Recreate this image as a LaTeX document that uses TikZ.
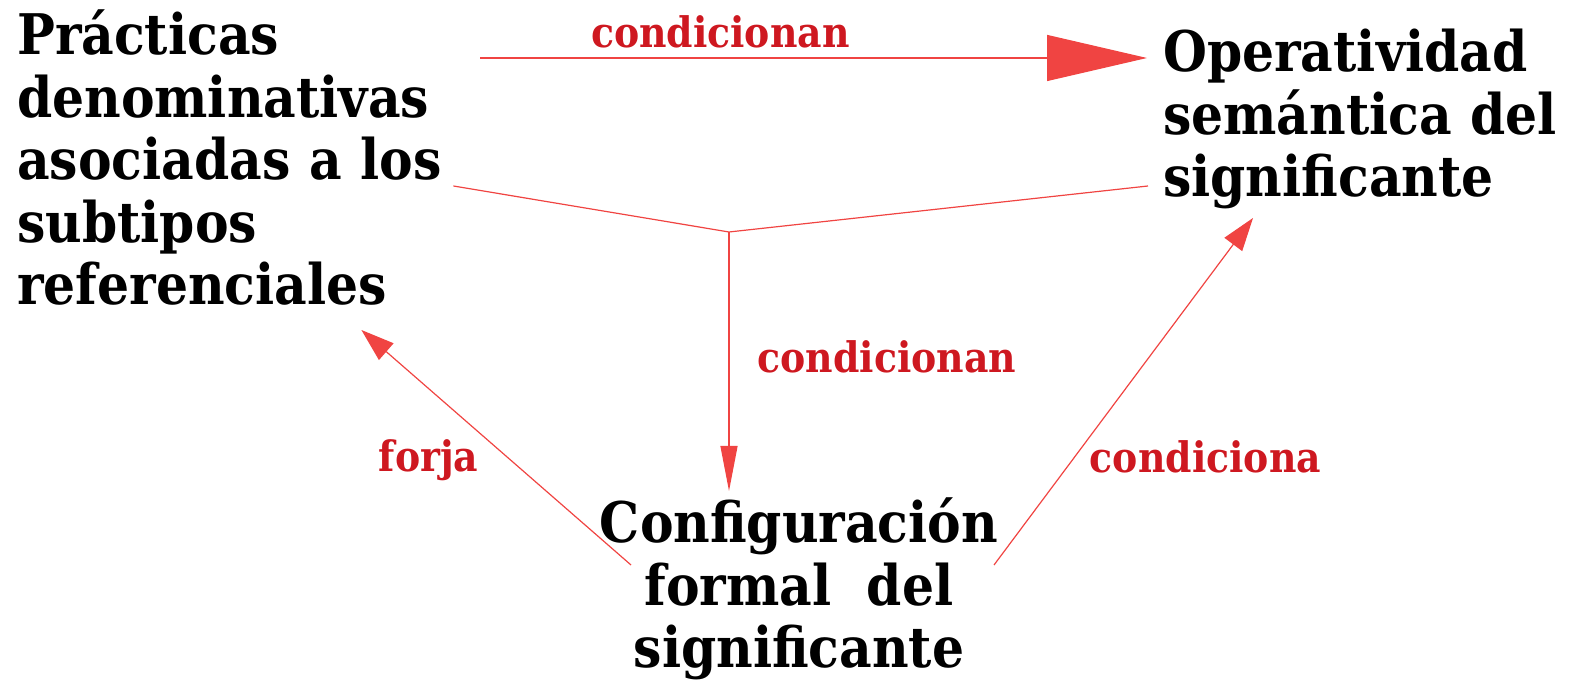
\documentclass[tikz,border=0pt]{standalone}
\usepackage{fontspec}
\newfontfamily\slab{DejaVu Serif Condensed}[BoldFont={DejaVu Serif Condensed Bold}]
\usetikzlibrary{arrows.meta,calc}
\definecolor{arrowred}{RGB}{240,68,66}
\definecolor{labelred}{RGB}{206,24,32}

\begin{document}
\begin{tikzpicture}[x=1pt,y=1pt]
    % Define styles
    \tikzset{
        concept/.style={
            inner sep=0pt,
            font=\slab\bfseries\fontsize{56}{62.5}\selectfont
        },
        link/.style={
            draw=arrowred,
            line width=1.2pt
        },
        tag/.style={
            inner sep=0pt,
            text=labelred,
            font=\slab\bfseries\fontsize{42}{48}\selectfont
        }
    }
    \useasboundingbox (0,0) rectangle (1571,687);

    % Concepts
    \node[concept, text width=437pt, align=left, anchor=base west] (prac) at (17,632) {
        Prácticas\\
        denominativas\\
        \makebox[437pt][s]{asociadas a los}\\
        subtipos\\
        referenciales
    };
    \node[concept, text width=397pt, align=left, anchor=base west] (oper) at (1163,615) {
        Operatividad\\
        \makebox[397pt][s]{semántica del}\\
        significante
    };
    \node[concept, text width=420pt, align=center, anchor=base] (conf) at (799,144) {
        Configuración\\
        formal\hspace{0.3em} del\\
        significante
    };

    % Junction of the two upper concepts
    \coordinate (J) at (729,455);

    % Connectors
    \draw[link, -{Triangle[length=100pt,width=46pt]}]
        ([shift={(26,-3)}]prac.base east) -- ([shift={(-16,14)}]oper.base west)
        node[tag, pos=0.36, anchor=base, yshift=10.5] {condicionan};
    \draw[link] ([shift={(-1,-131)}]prac.base east) -- (J) -- ([shift={(-15,-114)}]oper.base west);
    \draw[link, -{Triangle[length=45pt,width=17pt]}]
        (J) -- ($(conf.base -| J)+(0,52)$)
        node[tag, pos=0.544, anchor=base west, xshift=28] {condicionan};
    \draw[link, -{Triangle[length=33pt,width=22pt]}]
        ([shift={(-168,-22)}]conf.base) -- ([shift={(-93,-275)}]prac.base east)
        node[tag, pos=0.5, anchor=base, xshift=-67.5, yshift=-24.5] {forja};
    \draw[link, -{Triangle[length=33pt,width=22pt]}]
        ([shift={(195,-22)}]conf.base) -- ([shift={(90,-146)}]oper.base west)
        node[tag, pos=0.45, anchor=base, xshift=94.9, yshift=-64.15] {condiciona};
\end{tikzpicture}
\end{document}
